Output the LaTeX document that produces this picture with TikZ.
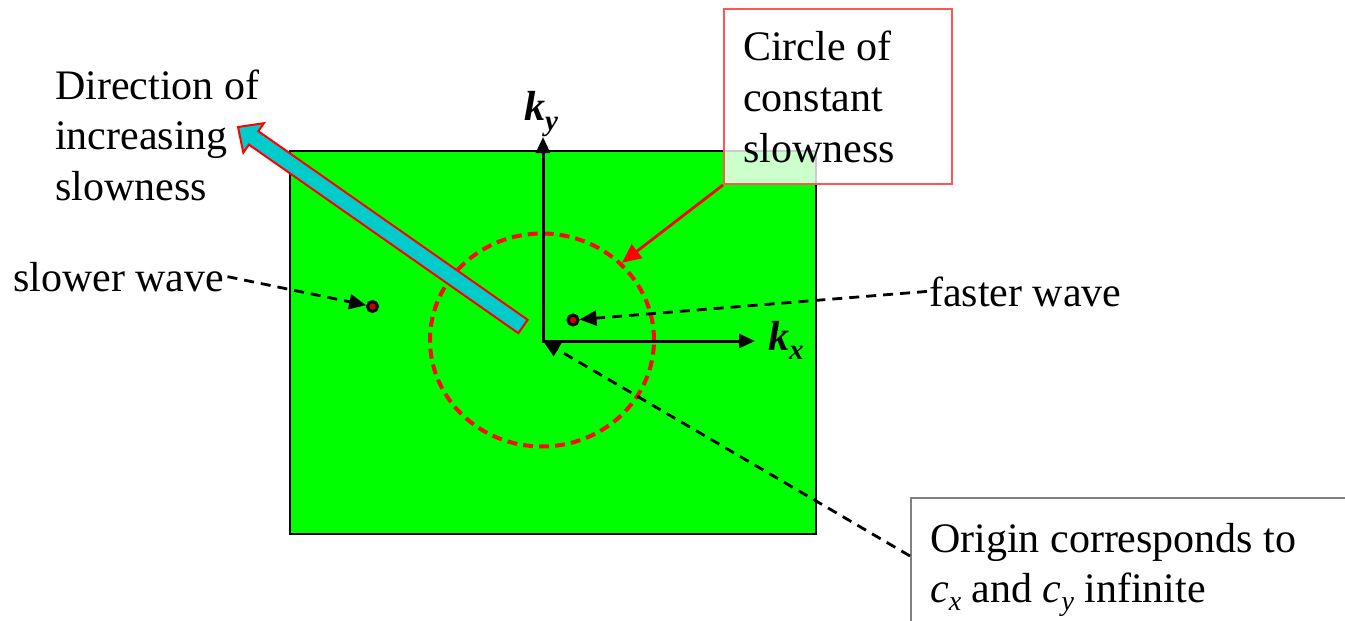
\documentclass[tikz,border=0pt]{standalone}
\usepackage{fontspec}
\setmainfont{Liberation Serif}
\usetikzlibrary{arrows.meta,shapes.geometric,calc}
\definecolor{grn}{RGB}{0,255,0}
\definecolor{cyanfill}{RGB}{0,204,204}
\definecolor{boxred}{RGB}{255,85,85}
\definecolor{circred}{RGB}{255,10,10}
\definecolor{dotred}{RGB}{200,0,0}
\begin{document}
\begin{tikzpicture}[x=1pt,y=-1pt,
  font=\fontsize{42}{50.5}\selectfont,
  lbl/.style={inner sep=0pt, anchor=base west, align=left},
  dsh/.style={dash pattern=on 10pt off 7pt, line width=2.8pt, -{Triangle[length=17pt,width=15pt]}},
  wavedot/.style={circle, draw=black, line width=3pt, fill=dotred, minimum size=10pt, inner sep=0pt},
  axis/.style={line width=3pt, {Triangle[length=16pt,width=14pt]}-{Triangle[length=16pt,width=14pt]}},
  klab/.style={inner sep=0pt, anchor=base west, font=\fontsize{42}{42}\selectfont\bfseries\itshape}
]
\useasboundingbox (0,0) rectangle (1345,621);

% green plane
\node[draw=black, line width=2pt, fill=grn, minimum width=526pt, minimum height=383pt,
      anchor=north west, inner sep=0pt] (plane) at (289,150) {};

% circle of constant slowness
\node[ellipse, draw=circred, line width=4pt, dash pattern=on 10pt off 6pt,
      minimum width=224pt, minimum height=213pt, inner sep=0pt] (circ) at (542,340) {};

% thick arrow: direction of increasing slowness
\filldraw[fill=cyanfill, draw=red, line width=2pt, line join=miter]
  (527.7,319.8) -- (258.3,131.2) -- (263.9,123.2) -- (238,127) -- (243.3,152.6)
  -- (248.9,144.6) -- (518.3,333.2) -- cycle;

% axes
\coordinate (O) at (543,341);
\coordinate (kyend) at (543,137);
\coordinate (kxend) at (755,341);
\draw[axis] (kyend) -- (O) -- (kxend);
\node[klab] (kylab) at (524,120) {k\raisebox{-10pt}{\fontsize{29}{29}\selectfont y}};
\node[klab] (kxlab) at (768,350) {k\raisebox{-9pt}{\fontsize{29}{29}\selectfont x}};

% wave dots
\node[wavedot] (sdot) at (372.5,306.5) {};
\node[wavedot] (fdot) at (573,320) {};

% boxes
\node[draw=boxred, line width=2pt, fill=white, fill opacity=0.8, minimum width=228pt,
      minimum height=175pt, anchor=north west, inner sep=0pt] (cbox) at (723,8) {};
\node[draw=gray, line width=2pt, fill=white, minimum width=480pt, minimum height=160pt,
      anchor=north west, inner sep=0pt] (obox) at (910,497) {};

% texts (base anchor = baseline of the last line)
\node[lbl] (dir) at (55,200) {Direction of\\increasing\\slowness};
\node[lbl] (slow) at (13,291) {slower wave};
\node[lbl] (fast) at (929,306) {faster wave};
\node[lbl, font=\fontsize{42}{51}\selectfont] (circtxt) at (743,162) {Circle of\\constant\\slowness};
\node[lbl, font=\fontsize{42}{50}\selectfont] (origtxt) at (930,602)
  {Origin corresponds to\\\textit{c}\raisebox{-8pt}{\fontsize{28}{28}\selectfont\itshape x} and
   \textit{c}\raisebox{-8pt}{\fontsize{28}{28}\selectfont\itshape y} infinite};

% connectors
\draw[dsh] ([xshift=3pt]slow.east) -- (sdot);
\draw[dsh] ([xshift=-2pt]fast.west) -- (fdot);
\draw[dsh] ($(obox.north west)+(0,59)$) -- (O);
\draw[red, line width=2.8pt, -{Triangle[length=19pt,width=17pt]}] (cbox.south west) -- (circ.44);
\end{tikzpicture}
\end{document}
